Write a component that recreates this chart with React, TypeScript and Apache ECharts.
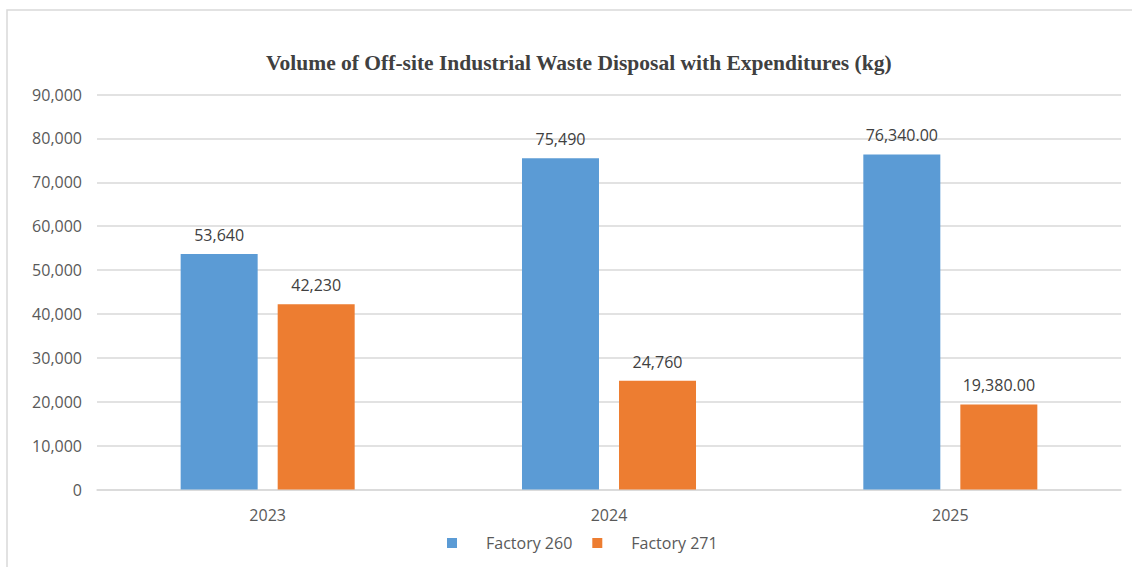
import React, { useEffect, useRef } from "react";
import * as echarts from "echarts";

const categories = ["2023", "2024", "2025"];
const factory260 = [53640, 75490, 76340];
const factory271 = [42230, 24760, 19380];
const labels260 = ["53,640", "75,490", "76,340.00"];
const labels271 = ["42,230", "24,760", "19,380.00"];
const seriesNames = ["Factory 260", "Factory 271"];
const titleText = "Volume of Off-site Industrial Waste Disposal with Expenditures (kg)";

export default function App() {
  const ref = useRef<HTMLDivElement>(null);
  useEffect(() => {
    if (!ref.current) return;
    const chart = echarts.init(ref.current, null, { renderer: "svg" });
    const font = "'Open Sans', sans-serif";
    const mkLabel = (arr: string[]) => ({
      show: true,
      position: "top",
      distance: 11,
      color: "#404040",
      fontFamily: font,
      fontSize: 16,
      formatter: (p: any) => arr[p.dataIndex],
    });
    chart.setOption({
      animation: false,
      backgroundColor: "#ffffff",
      graphic: [
        {
          type: "rect",
          shape: { x: 7, y: 10, width: 1140, height: 600 },
          style: { fill: "none", stroke: "#d9d9d9", lineWidth: 1.5 },
          silent: true,
        },
      ],
      title: {
        text: titleText,
        left: 261,
        top: 47,
        textStyle: {
          fontFamily: "'Liberation Serif', 'Times New Roman', serif",
          fontWeight: "bold",
          fontSize: 21.5,
          color: "#404040",
        },
      },
      legend: {
        data: seriesNames,
        bottom: 11,
        left: 442,
        icon: "rect",
        itemWidth: 10,
        itemHeight: 10,
        itemGap: 20,
        textStyle: { fontFamily: font, fontSize: 16, color: "#595959", padding: [0, 0, 0, 24] },
      },
      grid: { left: 97, right: 11, top: 94.5, bottom: 77.5, containLabel: false },
      xAxis: {
        type: "category",
        data: categories,
        axisLine: { lineStyle: { color: "#d9d9d9", width: 1.5 } },
        axisTick: { show: false },
        axisLabel: { color: "#595959", fontFamily: font, fontSize: 16, margin: 17 },
      },
      yAxis: {
        type: "value",
        min: 0,
        max: 90000,
        interval: 10000,
        axisLine: { show: false },
        axisTick: { show: false },
        splitLine: { lineStyle: { color: "#d9d9d9", width: 1.5 } },
        axisLabel: {
          color: "#595959",
          fontFamily: font,
          fontSize: 16,
          margin: 15,
          formatter: (v: number) => v.toLocaleString("en-US"),
        },
      },
      series: [
        {
          name: seriesNames[0],
          type: "bar",
          data: factory260,
          barWidth: 77,
          barGap: "26%",
          itemStyle: { color: "#5b9bd5" },
          label: mkLabel(labels260),
        },
        {
          name: seriesNames[1],
          type: "bar",
          data: factory271,
          barWidth: 77,
          barGap: "26%",
          itemStyle: { color: "#ed7d31" },
          label: mkLabel(labels271),
        },
      ],
    });
    return () => chart.dispose();
  }, []);
  return (
    <div
      ref={ref}
      style={{ position: "absolute", left: 0, top: 0, width: 1132, height: 567 }}
    />
  );
}
